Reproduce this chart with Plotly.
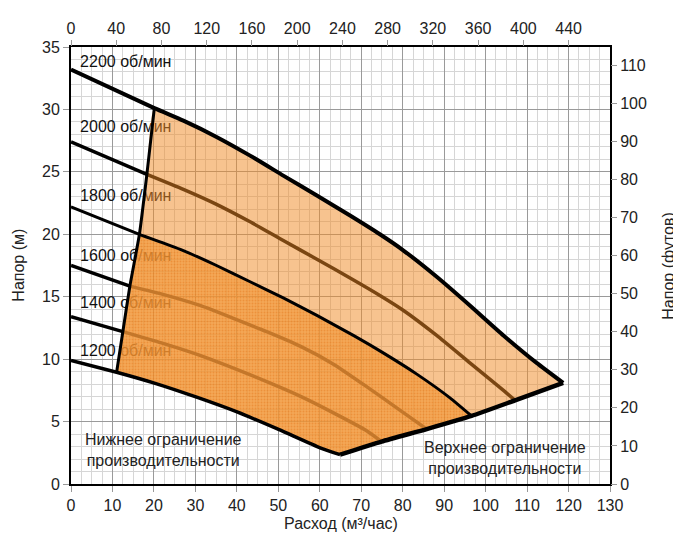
import plotly.graph_objects as go

# ---- data ----
rpm_names = ["2200 об/мин", "2000 об/мин", "1800 об/мин", "1600 об/мин", "1400 об/мин", "1200 об/мин"]
label_x = [2.2, 2.2, 2.2, 2.2, 2.2, 2.2]
label_y = [33.75, 28.55, 23.0, 18.2, 14.4, 10.6]

# each speed curve: first point at Q=0, second point on the minimum-flow line
q2200 = [0, 20.1, 27.1, 35.1, 43.2, 51.2, 59.3, 67.3, 74.5, 80.2, 88.2, 96.2, 104.3, 112.3, 118.7]
h2200 = [33.2, 30.1, 29.1, 27.8, 26.3, 24.7, 23.1, 21.5, 20.0, 18.7, 16.6, 14.3, 11.9, 9.7, 8.1]
q2000 = [0, 18.3, 27.1, 35.1, 43.2, 51.2, 59.3, 67.3, 74.5, 80.2, 88.2, 96.2, 104.3, 107.1]
h2000 = [27.4, 24.8, 23.6, 22.4, 21.0, 19.5, 18.0, 16.5, 15.1, 13.9, 11.9, 9.7, 7.5, 6.7]
q1800 = [0, 16.5, 27.1, 35.1, 43.2, 51.2, 59.3, 68.1, 75.3, 83.4, 91.4, 96.6]
h1800 = [22.2, 20.0, 18.7, 17.5, 16.2, 14.9, 13.5, 11.9, 10.5, 8.8, 6.9, 5.45]
q1600 = [0, 14.2, 22.6, 31.1, 47.2, 55.5, 63.3, 71.3, 79.4, 85.8]
h1600 = [17.5, 15.85, 15.15, 14.3, 12.2, 11.0, 9.6, 7.8, 5.9, 4.4]
q1400 = [0, 12.5, 21.8, 31.1, 47.2, 55.5, 63.3, 71.3, 74.9]
h1400 = [13.4, 12.2, 11.3, 10.3, 8.2, 7.0, 5.7, 4.27, 3.4]
q1200 = [0, 11.0, 20.1, 30.3, 40.2, 50.2, 60.1, 64.9]
h1200 = [9.9, 8.95, 8.08, 6.95, 5.75, 4.35, 2.9, 2.35]

# minimum-flow line and maximum-flow (upper limit) curve
q_min = [11.0, 12.5, 14.2, 16.5, 18.3, 20.1]
h_min = [8.95, 12.2, 15.85, 20.0, 24.8, 30.1]
q_max = [64.9, 74.9, 85.8, 96.6, 107.1, 118.7]
h_max = [2.35, 3.4, 4.4, 5.45, 6.7, 8.1]

M3H_TO_IMPGPM = 3.666
M_TO_FT = 3.2808

FAMILY = "Liberation Sans, Arial"
fig = go.Figure()

# rpm labels (drawn beneath the fills)
fig.add_trace(go.Scatter(x=label_x, y=label_y, text=rpm_names, mode="text",
                         textposition="middle right",
                         textfont=dict(family=FAMILY, size=16, color="#111"),
                         showlegend=False, hoverinfo="skip"))

# light region: between 2200 and 1800 curves
i_hi = q_max.index(96.6)
light_x = q2200[1:] + q_max[i_hi:][::-1] + q1800[1:][::-1] + q_min[3:]
light_y = h2200[1:] + h_max[i_hi:][::-1] + h1800[1:][::-1] + h_min[3:]
fig.add_trace(go.Scatter(x=light_x, y=light_y, fill="toself", mode="none",
                         line=dict(shape="spline", smoothing=0.5),
                         fillcolor="rgba(240,140,40,0.52)", showlegend=False, hoverinfo="skip"))

# dark region: between 1800 and 1200 curves
dark_x = q1800[1:] + q_max[:i_hi + 1][::-1] + q1200[1:][::-1] + q_min[:4]
dark_y = h1800[1:] + h_max[:i_hi + 1][::-1] + h1200[1:][::-1] + h_min[:4]
fig.add_trace(go.Scatter(x=dark_x, y=dark_y, fill="toself", mode="none",
                         fillcolor="rgba(242,145,45,0.85)",
                         fillpattern=dict(shape=".", bgcolor="rgba(242,148,50,0.82)",
                                          fgcolor="rgba(226,120,25,0.9)", size=3, solidity=0.35),
                         showlegend=False, hoverinfo="skip"))


def line(x, y, color, width):
    fig.add_trace(go.Scatter(x=x, y=y, mode="lines",
                             line=dict(color=color, width=width, shape="spline", smoothing=0.5),
                             showlegend=False, hoverinfo="skip"))


BROWN = "#7a4612"
LBROWN = "#c4772a"

# inner (coloured) portions of the speed curves
line(q2000[1:], h2000[1:], BROWN, 3.5)
line(q1600[1:], h1600[1:], LBROWN, 3.5)
line(q1400[1:], h1400[1:], LBROWN, 3.5)

# black outer portions
for q, h in [(q2000, h2000), (q1600, h1600), (q1400, h1400)]:
    line(q[:2], h[:2], "black", 3.5)

# full black curves
line(q2200, h2200, "black", 4)
line(q1800, h1800, "black", 3)
line(q1200, h1200, "black", 3.5)
line(q_min, h_min, "black", 3)
line(q_max, h_max, "black", 4.5)

# dummy trace for secondary axes
fig.add_trace(go.Scatter(x=[], y=[], xaxis="x2", yaxis="y2", showlegend=False, hoverinfo="skip"))

font = dict(family=FAMILY, size=16, color="#222")
grid_major = "#9a9a9a"
grid_minor = "#d6d6d6"

fig.update_layout(
    width=673, height=525,
    margin=dict(l=63, r=71, t=32, b=49),
    paper_bgcolor="white", plot_bgcolor="white",
    font=font,
    xaxis=dict(range=[0, 130], dtick=10, tick0=0, showgrid=True, gridcolor=grid_major, gridwidth=1,
               minor=dict(dtick=2.5, showgrid=True, gridcolor=grid_minor, gridwidth=1),
               ticks="outside", ticklen=6, tickcolor="#999", tickfont=font,
               showline=True, linecolor="black", linewidth=2, mirror=True, zeroline=False),
    yaxis=dict(range=[0, 35], dtick=5, tick0=0, showgrid=True, gridcolor=grid_major, gridwidth=1,
               minor=dict(dtick=1, showgrid=True, gridcolor=grid_minor, gridwidth=1),
               ticks="outside", ticklen=6, tickcolor="#999", tickfont=font,
               showline=True, linecolor="black", linewidth=2, mirror=True, zeroline=False),
    xaxis2=dict(overlaying="x", side="top", range=[0, 130 * M3H_TO_IMPGPM], dtick=40, tick0=0,
                showgrid=False, zeroline=False, ticks="outside", ticklen=6, tickcolor="#999",
                tickfont=font, showline=False),
    yaxis2=dict(overlaying="y", side="right", range=[0, 35 * M_TO_FT], dtick=10, tick0=0,
                showgrid=False, zeroline=False, ticks="outside", ticklen=6, tickcolor="#999",
                tickfont=font, showline=False),
    annotations=[
        dict(text="Напор (м)", xref="paper", yref="paper", x=-0.098, y=0.5, textangle=-90,
             showarrow=False, font=font, xanchor="center", yanchor="middle"),
        dict(text="Напор (футов)", xref="paper", yref="paper", x=1.108, y=0.5, textangle=-90,
             showarrow=False, font=font, xanchor="center", yanchor="middle"),
        dict(text="Расход (м³/час)", xref="paper", yref="paper", x=0.5, y=-0.09,
             showarrow=False, font=font, xanchor="center", yanchor="middle"),
        dict(text="Нижнее ограничение<br>производительности", x=22.2, y=2.75, showarrow=False,
             font=font, xanchor="center", yanchor="middle"),
        dict(text="Верхнее ограничение<br>производительности", x=104.7, y=2.05, showarrow=False,
             font=font, xanchor="center", yanchor="middle"),
    ],
)

fig.write_html("out.html")
